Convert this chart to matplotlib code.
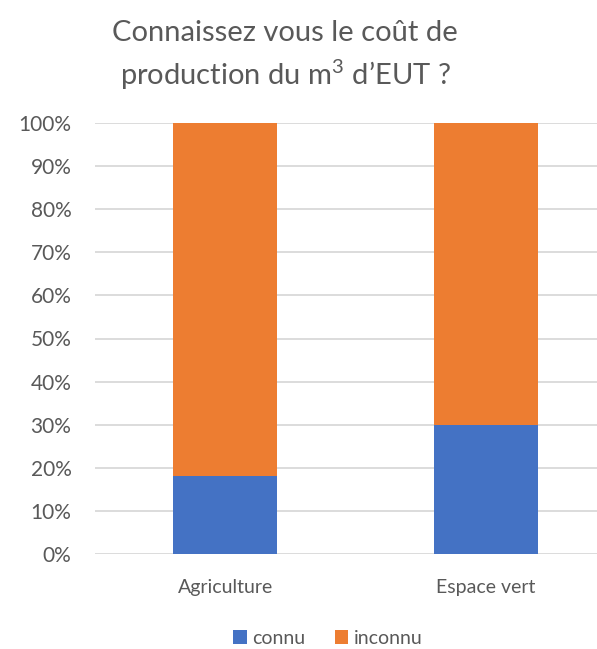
import matplotlib.pyplot as plt
from matplotlib.ticker import PercentFormatter

# data
categories = ['Agriculture', 'Espace vert']
connu = [18.2, 30.0]
inconnu = [81.8, 70.0]

W, H = 597, 649
fig = plt.figure(figsize=(W / 100, H / 100), dpi=100)
plt.rcParams['font.family'] = ['Lato', 'DejaVu Sans']
plt.rcParams['mathtext.fontset'] = 'custom'
plt.rcParams['mathtext.rm'] = 'Lato'
grey = '#595959'

# axes placed in pixel terms (right side runs past the figure edge, as in the reference)
left, right, bottom, top = 95, 616, 649 - 554, 649 - 123
ax = fig.add_axes([left / W, bottom / H, (right - left) / W, (top - bottom) / H])

x = range(len(categories))
ax.bar(x, connu, width=0.4, color='#4472C4', label='connu', zorder=3)
ax.bar(x, inconnu, width=0.4, bottom=connu, color='#ED7D31', label='inconnu', zorder=3)

ax.set_xlim(-0.5, 1.5)
ax.set_ylim(0, 100)
ax.set_yticks(range(0, 101, 10))
ax.yaxis.set_major_formatter(PercentFormatter(decimals=0))
ax.set_xticks(list(x))
ax.set_xticklabels(categories)
ax.grid(axis='y', color='#D9D9D9', linewidth=1.3, zorder=0)
for s in ax.spines.values():
    s.set_visible(False)
ax.tick_params(axis='both', length=0, colors=grey)
ax.tick_params(axis='y', pad=17, labelsize=15)
ax.tick_params(axis='x', pad=18, labelsize=14)

fig.text(285 / W, 1 - 56 / H, "Connaissez vous le coût de\nproduction du m$\\mathrm{^3}$ d’EUT ?",
         ha='center', va='center', fontsize=21, color=grey, linespacing=1.45)

handles, labels = ax.get_legend_handles_labels()
fig.legend(handles, labels, loc='center', bbox_to_anchor=(328 / W, 1 - 638 / H), ncol=2,
           frameon=False, fontsize=14, labelcolor=grey, handlelength=0.7, handleheight=0.7,
           handletextpad=0.3, columnspacing=1.5)

fig.savefig('out.png', dpi=100)
